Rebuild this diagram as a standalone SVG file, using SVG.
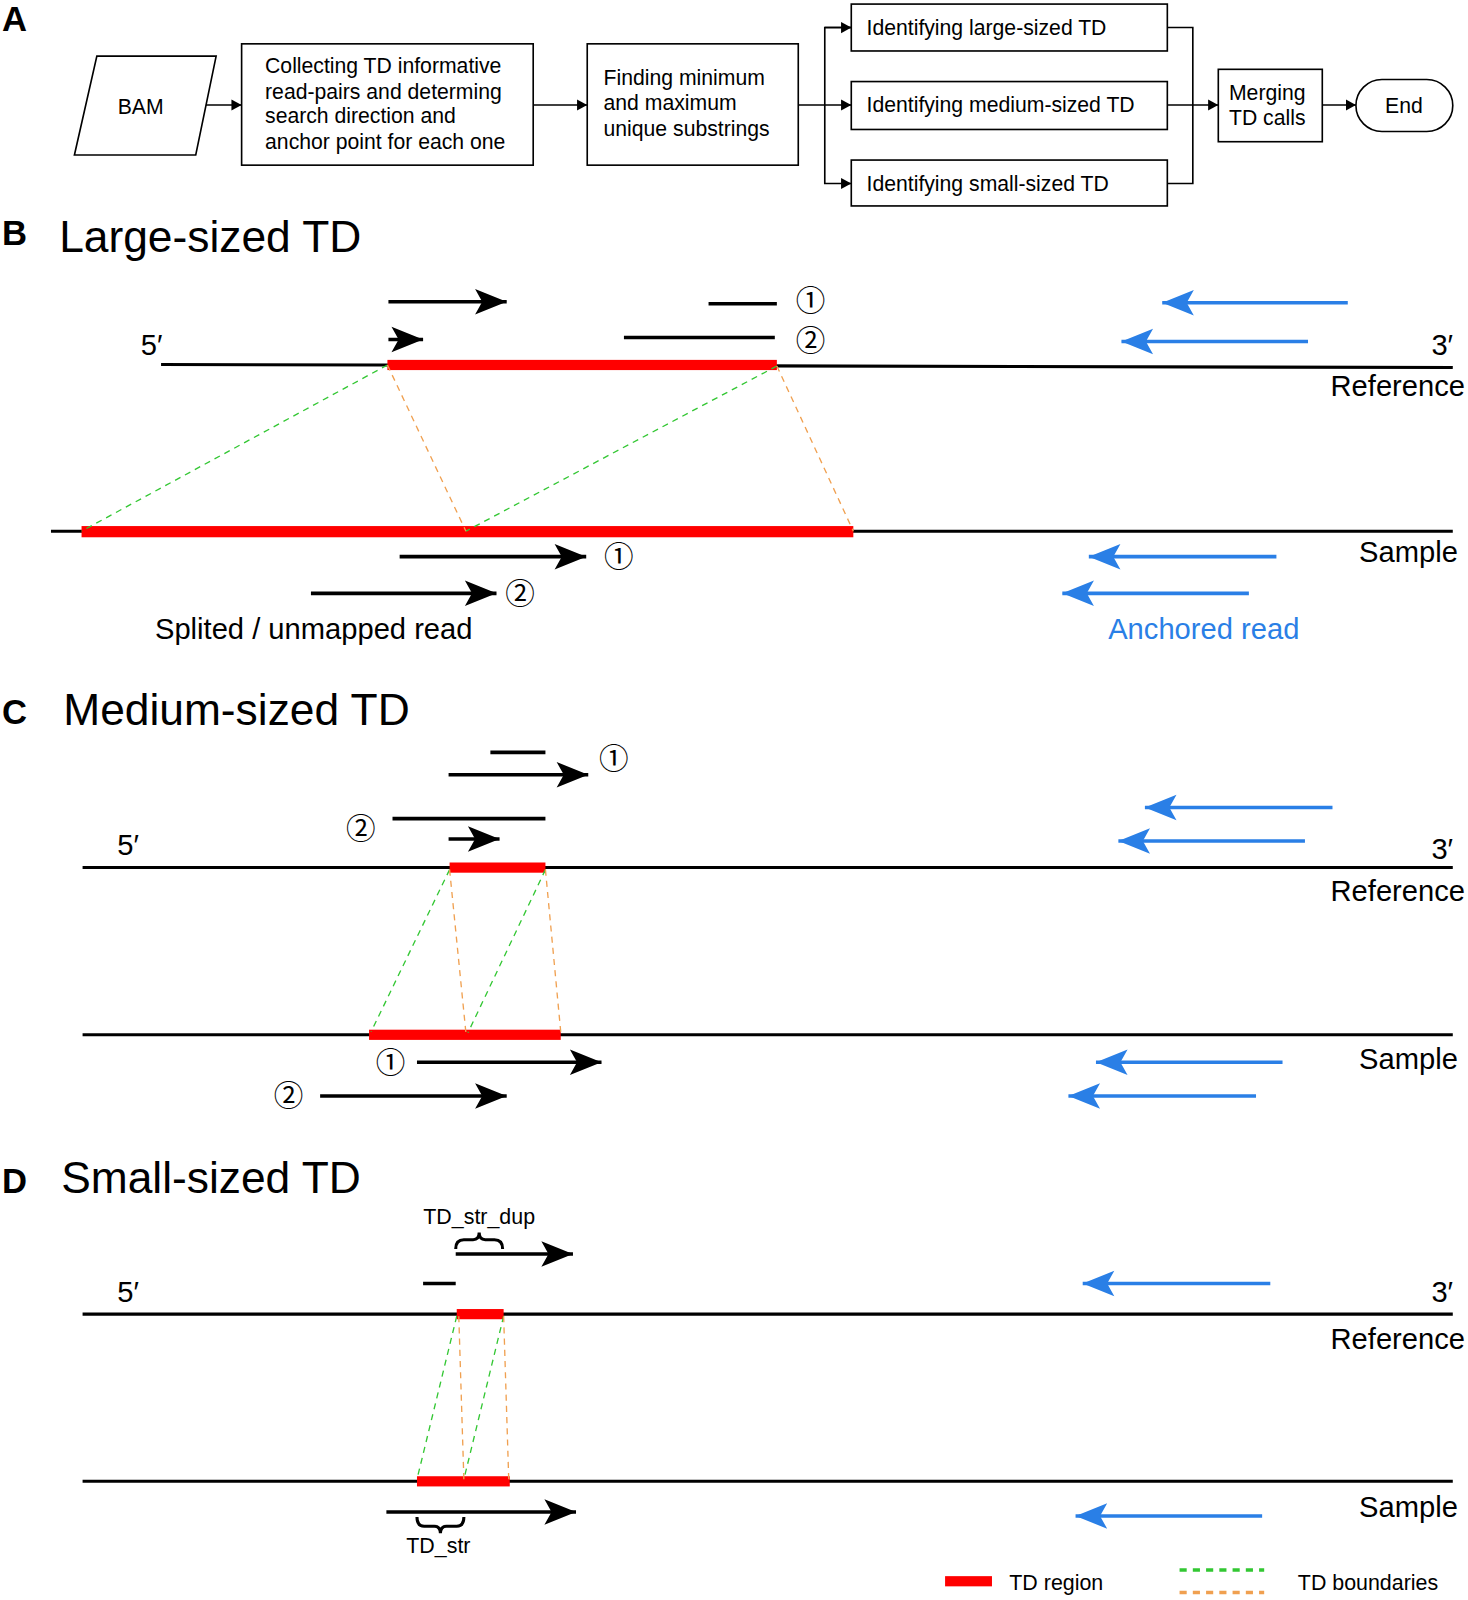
<svg xmlns="http://www.w3.org/2000/svg" width="1468" height="1600" viewBox="0 0 1468 1600">
<style>
text{font-family:"Liberation Sans",Arial,sans-serif;fill:#000}
.fc{font-size:20.8px}
.lbl{font-size:28.6px}
.ttl{font-size:43.5px}
.pan{font-size:34px;font-weight:bold}
.circ{font-family:"Liberation Sans","Noto Sans CJK JP",sans-serif;font-size:29px}
.sm{font-size:21px}
.box{fill:#fff;stroke:#000;stroke-width:1.6}
.fl{fill:none;stroke:#000;stroke-width:1.6}
.dna{stroke:#000;stroke-width:3}
.red{fill:#f00}
.rd{stroke:#000;stroke-width:3.5;fill:none}
.bl{stroke:#2a7fe6;stroke-width:3.5;fill:none}
.gd{stroke:#33c733;stroke-width:1.3;stroke-dasharray:6 5;fill:none}
.od{stroke:#f0a050;stroke-width:1.3;stroke-dasharray:6 5;fill:none}
.br{fill:none;stroke:#000;stroke-width:3}
</style>
<defs>
<marker id="fa" viewBox="-10 -6 11 12" refX="0" refY="0" markerWidth="11" markerHeight="12" markerUnits="userSpaceOnUse" orient="auto"><path d="M0,0 L-10,-5.5 L-10,5.5 Z" fill="#000"/></marker>
<marker id="ha" viewBox="-32 -14 34 28" refX="0" refY="0" markerWidth="34" markerHeight="28" markerUnits="userSpaceOnUse" orient="auto"><path d="M0,0 L-31,-12.5 L-24,0 L-31,12.5 Z" fill="#000"/></marker>
<marker id="hb" viewBox="-32 -14 34 28" refX="0" refY="0" markerWidth="34" markerHeight="28" markerUnits="userSpaceOnUse" orient="auto"><path d="M0,0 L-31,-12.5 L-24,0 L-31,12.5 Z" fill="#2a7fe6"/></marker>
</defs>
<rect width="1468" height="1600" fill="#fff"/>
<g transform="scale(1.0195)">
<!-- Panel A -->
<text class="pan" x="2" y="30">A</text>
<g id="bam"><polygon class="box" points="95,55 212,55 192,152 73,152"/><text class="fc" x="138" y="112" text-anchor="middle">BAM</text></g>
<g id="collect"><rect class="box" x="237" y="43" width="286" height="119"/>
<text class="fc" x="260" y="72">Collecting TD informative</text>
<text class="fc" x="260" y="97">read-pairs and determing</text>
<text class="fc" x="260" y="121">search direction and</text>
<text class="fc" x="260" y="146">anchor point for each one</text></g>
<g id="finding"><rect class="box" x="576" y="43" width="207" height="119"/>
<text class="fc" x="592" y="83">Finding minimum</text>
<text class="fc" x="592" y="108">and maximum</text>
<text class="fc" x="592" y="133">unique substrings</text></g>
<g id="large"><rect class="box" x="835" y="4" width="310" height="46"/><text class="fc" x="850" y="34">Identifying large-sized TD</text></g>
<g id="medium"><rect class="box" x="835" y="80" width="310" height="47"/><text class="fc" x="850" y="110">Identifying medium-sized TD</text></g>
<g id="small"><rect class="box" x="835" y="157" width="310" height="45"/><text class="fc" x="850" y="187">Identifying small-sized TD</text></g>
<g id="merge"><rect class="box" x="1195" y="68" width="102" height="71"/><text class="fc" x="1243" y="98" text-anchor="middle">Merging</text><text class="fc" x="1243" y="123" text-anchor="middle">TD calls</text></g>
<g id="end"><rect class="box" x="1330" y="78" width="95" height="51" rx="25.5"/><text class="fc" x="1377" y="111" text-anchor="middle">End</text></g>
<g id="flow-connectors">
<line class="fl" x1="202" y1="103" x2="237" y2="103" marker-end="url(#fa)"/>
<line class="fl" x1="523" y1="103" x2="576" y2="103" marker-end="url(#fa)"/>
<line class="fl" x1="783" y1="103" x2="835" y2="103" marker-end="url(#fa)"/>
<polyline class="fl" points="835,27 809,27 809,180 835,180" marker-end="url(#fa)"/>
<line class="fl" x1="809" y1="27" x2="835" y2="27" marker-end="url(#fa)"/>
<polyline class="fl" points="1145,27 1170,27 1170,180 1145,180"/>
<line class="fl" x1="1145" y1="103" x2="1195" y2="103" marker-end="url(#fa)"/>
<line class="fl" x1="1297" y1="103" x2="1330" y2="103" marker-end="url(#fa)"/>
</g>

<!-- Panel B -->
<text class="pan" x="2" y="240">B</text>
<text class="ttl" x="58" y="247">Large-sized TD</text>
<g id="b-reference">
<line class="dna" x1="158" y1="357.5" x2="1425" y2="360.5"/>
<rect class="red" x="380" y="353" width="382" height="10"/>
<text class="lbl" x="138" y="348">5′</text>
<text class="lbl" x="1404" y="348">3′</text>
<text class="lbl" x="1437" y="388" text-anchor="end">Reference</text>
</g>
<g id="b-sample">
<line class="dna" x1="50" y1="521" x2="1425" y2="521"/>
<rect class="red" x="80" y="516" width="757" height="11"/>
<text class="lbl" x="1430" y="551" text-anchor="end">Sample</text>
</g>
<g id="b-reads">
<line class="rd" x1="381" y1="296" x2="497" y2="296" marker-end="url(#ha)"/>
<line class="rd" x1="381" y1="333" x2="415" y2="333" marker-end="url(#ha)"/>
<line class="rd" x1="695" y1="298" x2="762" y2="298"/>
<line class="rd" x1="612" y1="331" x2="760" y2="331"/>
<text class="circ" x="795" y="305" text-anchor="middle">①</text>
<text class="circ" x="795" y="344" text-anchor="middle">②</text>
<line class="bl" x1="1322" y1="297" x2="1140" y2="297" marker-end="url(#hb)"/>
<line class="bl" x1="1283" y1="335" x2="1100" y2="335" marker-end="url(#hb)"/>
<line class="rd" x1="392" y1="546" x2="575" y2="546" marker-end="url(#ha)"/>
<text class="circ" x="607" y="556" text-anchor="middle">①</text>
<line class="rd" x1="305" y1="582" x2="487" y2="582" marker-end="url(#ha)"/>
<text class="circ" x="510" y="592" text-anchor="middle">②</text>
<line class="bl" x1="1252" y1="546" x2="1068" y2="546" marker-end="url(#hb)"/>
<line class="bl" x1="1225" y1="582" x2="1042" y2="582" marker-end="url(#hb)"/>
<text class="lbl" x="152" y="627">Splited / unmapped read</text>
<text class="lbl" x="1087" y="627" style="fill:#2a7fe6">Anchored read</text>
</g>
<g id="b-boundaries">
<line class="gd" x1="380" y1="358" x2="80" y2="521"/>
<line class="gd" x1="762" y1="359" x2="457" y2="521"/>
<line class="od" x1="380" y1="358" x2="457" y2="521"/>
<line class="od" x1="762" y1="359" x2="837" y2="521"/>
</g>

<!-- Panel C -->
<text class="pan" x="2" y="710">C</text>
<text class="ttl" x="62" y="711">Medium-sized TD</text>
<g id="c-reference">
<line class="dna" x1="81" y1="851" x2="1425" y2="851"/>
<rect class="red" x="441" y="846" width="94" height="10"/>
<text class="lbl" x="115" y="839">5′</text>
<text class="lbl" x="1404" y="843">3′</text>
<text class="lbl" x="1437" y="884" text-anchor="end">Reference</text>
</g>
<g id="c-sample">
<line class="dna" x1="81" y1="1015" x2="1425" y2="1015"/>
<rect class="red" x="362" y="1010" width="188" height="10"/>
<text class="lbl" x="1430" y="1049" text-anchor="end">Sample</text>
</g>
<g id="c-reads">
<line class="rd" x1="481" y1="738" x2="535" y2="738"/>
<line class="rd" x1="440" y1="760" x2="577" y2="760" marker-end="url(#ha)"/>
<text class="circ" x="602" y="754" text-anchor="middle">①</text>
<line class="rd" x1="385" y1="803" x2="535" y2="803"/>
<text class="circ" x="354" y="823" text-anchor="middle">②</text>
<line class="rd" x1="440" y1="823" x2="490" y2="823" marker-end="url(#ha)"/>
<line class="bl" x1="1307" y1="792" x2="1123" y2="792" marker-end="url(#hb)"/>
<line class="bl" x1="1280" y1="825" x2="1097" y2="825" marker-end="url(#hb)"/>
<text class="circ" x="383" y="1052" text-anchor="middle">①</text>
<line class="rd" x1="409" y1="1042" x2="590" y2="1042" marker-end="url(#ha)"/>
<text class="circ" x="283" y="1085" text-anchor="middle">②</text>
<line class="rd" x1="314" y1="1075" x2="497" y2="1075" marker-end="url(#ha)"/>
<line class="bl" x1="1258" y1="1042" x2="1075" y2="1042" marker-end="url(#hb)"/>
<line class="bl" x1="1232" y1="1075" x2="1048" y2="1075" marker-end="url(#hb)"/>
</g>
<g id="c-boundaries">
<line class="gd" x1="441" y1="853" x2="364" y2="1012"/>
<line class="gd" x1="535" y1="853" x2="459" y2="1013"/>
<line class="od" x1="441" y1="853" x2="457" y2="1013"/>
<line class="od" x1="535" y1="853" x2="550" y2="1012"/>
</g>

<!-- Panel D -->
<text class="pan" x="2" y="1170">D</text>
<text class="ttl" x="60" y="1170">Small-sized TD</text>
<g id="d-reference">
<line class="dna" x1="81" y1="1289" x2="1425" y2="1289"/>
<rect class="red" x="448" y="1284" width="46" height="10"/>
<text class="lbl" x="115" y="1277">5′</text>
<text class="lbl" x="1404" y="1277">3′</text>
<text class="lbl" x="1437" y="1323" text-anchor="end">Reference</text>
</g>
<g id="d-sample">
<line class="dna" x1="81" y1="1453" x2="1425" y2="1453"/>
<rect class="red" x="409" y="1448" width="91" height="10"/>
<text class="lbl" x="1430" y="1488" text-anchor="end">Sample</text>
</g>
<g id="d-reads">
<text class="sm" x="470" y="1201" text-anchor="middle">TD_str_dup</text>
<path class="br" d="M447,1225 Q447,1216 455,1216 L464,1216 Q470,1216 470,1209 Q470,1216 476,1216 L485,1216 Q493,1216 493,1225"/>
<line class="rd" x1="447" y1="1230" x2="562" y2="1230" marker-end="url(#ha)"/>
<line class="rd" x1="415" y1="1259" x2="447" y2="1259"/>
<line class="bl" x1="1246" y1="1259" x2="1062" y2="1259" marker-end="url(#hb)"/>
<line class="rd" x1="379" y1="1483" x2="565" y2="1483" marker-end="url(#ha)"/>
<path class="br" d="M409,1488 Q409,1497 416,1497 L426,1497 Q432,1497 432,1504 Q432,1497 438,1497 L448,1497 Q455,1497 455,1488"/>
<text class="sm" x="430" y="1523" text-anchor="middle">TD_str</text>
<line class="bl" x1="1238" y1="1487" x2="1055" y2="1487" marker-end="url(#hb)"/>
</g>
<g id="d-boundaries">
<line class="gd" x1="448" y1="1291" x2="409" y2="1451"/>
<line class="gd" x1="494" y1="1291" x2="455" y2="1451"/>
<line class="od" x1="450" y1="1291" x2="455" y2="1451"/>
<line class="od" x1="494" y1="1291" x2="499" y2="1451"/>
</g>

<!-- Legend -->
<g id="legend">
<rect class="red" x="927" y="1546" width="46" height="10"/>
<text class="sm" x="990" y="1560">TD region</text>
<line x1="1157" y1="1540" x2="1240" y2="1540" stroke="#33c733" stroke-width="3.5" stroke-dasharray="7 6"/>
<line x1="1157" y1="1562" x2="1240" y2="1562" stroke="#f0a050" stroke-width="3.5" stroke-dasharray="7 6"/>
<text class="sm" x="1273" y="1560">TD boundaries</text>
</g>
</g>
</svg>
